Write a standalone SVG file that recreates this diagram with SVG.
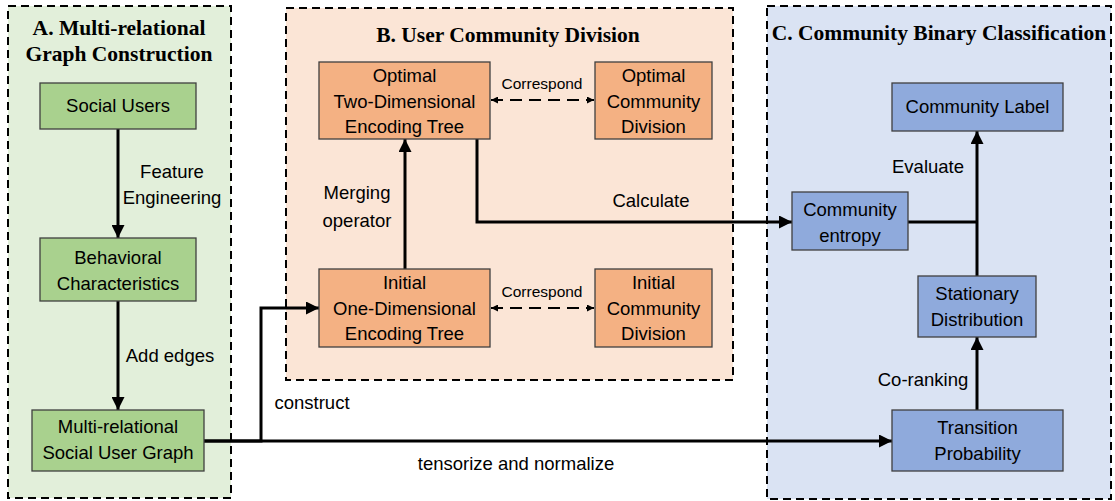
<svg xmlns="http://www.w3.org/2000/svg" width="1115" height="501" viewBox="0 0 1115 501">
<defs>
<marker id="ah" viewBox="0 0 10 10" refX="10" refY="5" markerWidth="13" markerHeight="13" markerUnits="userSpaceOnUse" orient="auto"><path d="M0,0 L10,5 L0,10 z" fill="#000"/></marker>
<marker id="sm" viewBox="0 0 10 10" refX="10" refY="5" markerWidth="7" markerHeight="7" markerUnits="userSpaceOnUse" orient="auto-start-reverse"><path d="M0,0 L10,5 L0,10 z" fill="#000"/></marker>
</defs>
<style>
.panel{stroke:#000;stroke-width:2;stroke-dasharray:8,5}
.title{font-family:"Liberation Serif",serif;font-weight:bold;font-size:21.5px;fill:#000;text-anchor:middle}
.g{fill:#A9D18E;stroke:#3f3f3f;stroke-width:1.3}
.o{fill:#F4B183;stroke:#3f3f3f;stroke-width:1.3}
.b{fill:#8FAADC;stroke:#3f3f3f;stroke-width:1.3}
.t{font-family:"Liberation Sans",Arial,sans-serif;font-size:18.5px;fill:#000;text-anchor:middle}
.lb{font-family:"Liberation Sans",Arial,sans-serif;font-size:18.5px;fill:#000;text-anchor:middle}
.sl{font-family:"Liberation Sans",Arial,sans-serif;font-size:15.5px;fill:#000;text-anchor:middle}
.c{fill:none;stroke:#000;stroke-width:3}
.d{fill:none;stroke:#000;stroke-width:2;stroke-dasharray:12,7}
</style>
<g id="panels">
<rect id="panelA" class="panel" x="8" y="6" width="223" height="492" fill="#E2EFDA"/>
<rect id="panelB" class="panel" x="286" y="8" width="447" height="372" fill="#FBE5D6"/>
<rect id="panelC" class="panel" x="767" y="6" width="344" height="493" fill="#DAE3F3"/>
<text class="title" x="119" y="35">A. Multi-relational</text>
<text class="title" x="119" y="61">Graph Construction</text>
<text class="title" x="508" y="42">B. User Community Division</text>
<text class="title" x="939" y="40">C. Community Binary Classification</text>
</g>
<g id="connectors">
<line class="c" x1="118" y1="129" x2="118" y2="238" marker-end="url(#ah)"/>
<line class="c" x1="118" y1="301" x2="118" y2="410" marker-end="url(#ah)"/>
<polyline class="c" points="204,441 261,441 261,308 319,308" marker-end="url(#ah)"/>
<line class="c" x1="204" y1="441" x2="892" y2="441" marker-end="url(#ah)"/>
<line class="c" x1="405" y1="269" x2="405" y2="139" marker-end="url(#ah)"/>
<polyline class="c" points="477,139 477,222 792,222" marker-end="url(#ah)"/>
<line class="c" x1="977" y1="410" x2="977" y2="337" marker-end="url(#ah)"/>
<line class="c" x1="977" y1="276" x2="977" y2="131" marker-end="url(#ah)"/>
<line class="c" x1="908" y1="222" x2="977" y2="222"/>
<line class="d" x1="491" y1="100" x2="594" y2="100" marker-start="url(#sm)" marker-end="url(#sm)"/>
<line class="d" x1="491" y1="308" x2="594" y2="308" marker-start="url(#sm)" marker-end="url(#sm)"/>
<text class="lb" x="172" y="178">Feature</text>
<text class="lb" x="172" y="204">Engineering</text>
<text class="lb" x="170" y="362">Add edges</text>
<text class="lb" x="357" y="199">Merging</text>
<text class="lb" x="357" y="227">operator</text>
<text class="lb" x="651" y="207">Calculate</text>
<text class="lb" x="928" y="173">Evaluate</text>
<text class="lb" x="923" y="386">Co-ranking</text>
<text class="lb" x="312" y="409">construct</text>
<text class="lb" x="516" y="470">tensorize and normalize</text>
<text class="sl" x="542" y="89">Correspond</text>
<text class="sl" x="542" y="297">Correspond</text>
</g>
<g id="social-users"><rect class="g" x="40" y="83" width="156" height="46"/><text class="t" x="118" y="112">Social Users</text></g>
<g id="behavioral"><rect class="g" x="40" y="238" width="156" height="63"/><text class="t" x="118" y="264">Behavioral</text><text class="t" x="118" y="290">Characteristics</text></g>
<g id="graph"><rect class="g" x="32" y="410" width="172" height="61"/><text class="t" x="118" y="433">Multi-relational</text><text class="t" x="118" y="459">Social User Graph</text></g>
<g id="optimal-tree"><rect class="o" x="319" y="62" width="171" height="77"/><text class="t" x="404.5" y="82">Optimal</text><text class="t" x="404.5" y="108">Two-Dimensional</text><text class="t" x="404.5" y="133">Encoding Tree</text></g>
<g id="optimal-division"><rect class="o" x="595" y="62" width="117" height="77"/><text class="t" x="653.5" y="82">Optimal</text><text class="t" x="653.5" y="108">Community</text><text class="t" x="653.5" y="133">Division</text></g>
<g id="initial-tree"><rect class="o" x="319" y="269" width="171" height="78"/><text class="t" x="404.5" y="289">Initial</text><text class="t" x="404.5" y="315">One-Dimensional</text><text class="t" x="404.5" y="340">Encoding Tree</text></g>
<g id="initial-division"><rect class="o" x="595" y="269" width="117" height="78"/><text class="t" x="653.5" y="289">Initial</text><text class="t" x="653.5" y="315">Community</text><text class="t" x="653.5" y="340">Division</text></g>
<g id="community-label"><rect class="b" x="892" y="83" width="171" height="48"/><text class="t" x="977.5" y="113">Community Label</text></g>
<g id="community-entropy"><rect class="b" x="792" y="192" width="116" height="58"/><text class="t" x="850" y="216">Community</text><text class="t" x="850" y="242">entropy</text></g>
<g id="stationary"><rect class="b" x="918" y="276" width="118" height="61"/><text class="t" x="977" y="300">Stationary</text><text class="t" x="977" y="326">Distribution</text></g>
<g id="transition"><rect class="b" x="892" y="410" width="171" height="61"/><text class="t" x="977.5" y="434">Transition</text><text class="t" x="977.5" y="460">Probability</text></g>
</svg>
